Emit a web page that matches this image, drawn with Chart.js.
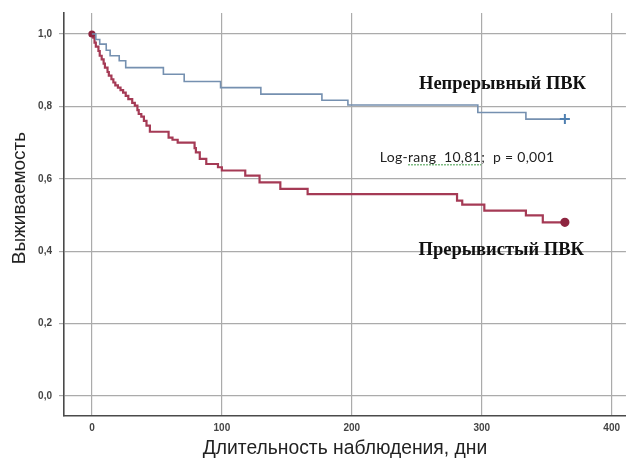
<!DOCTYPE html>
<html lang="ru">
<head>
    <meta charset="UTF-8">
    <title>Выживаемость</title>
    <script src="https://cdn.jsdelivr.net/npm/chart.js"></script>
    <style>
        body { margin: 0; background: #fff; }
        canvas { display: block; }
    </style>
</head>
<body>
    <canvas id="grafico" width="626" height="466"></canvas>

    <script>
        // Непрерывный ПВК (Kaplan-Meier)
        const diasNepr = [0, 3, 6, 11, 14, 21, 26, 55, 71, 99, 130, 177, 197, 297, 334, 364];
        const survNepr = [1.0, 0.985, 0.972, 0.955, 0.94, 0.926, 0.907, 0.889, 0.869, 0.852, 0.834, 0.817, 0.804, 0.783, 0.765, 0.765];

        // Прерывистый ПВК
        const diasPrer = [0, 1, 2, 3, 5, 6, 7.5, 9, 10, 12, 13, 15, 16.5, 18, 20, 22, 24, 26, 28, 31, 33, 35, 36, 38, 40, 42, 44.6,
                          59, 62, 66, 79, 80, 83, 88, 97, 100, 118, 129, 145, 166, 281, 285, 302, 334, 347, 364];
        const survPrer = [1.0, 0.99, 0.976, 0.965, 0.953, 0.94, 0.93, 0.918, 0.907, 0.895, 0.885, 0.875, 0.866, 0.858, 0.852, 0.845, 0.838, 0.829, 0.82, 0.81, 0.802, 0.79, 0.779, 0.772, 0.76, 0.747, 0.73,
                          0.714, 0.708, 0.70, 0.685, 0.673, 0.655, 0.641, 0.632, 0.623, 0.609, 0.59, 0.572, 0.558, 0.54, 0.529, 0.512, 0.499, 0.48, 0.48];

        const ticksX = [0, 100, 200, 300, 400];
        const ticksY = [0, 0.2, 0.4, 0.6, 0.8, 1.0];

        function pontos(dias, surv) {
            return dias.map((d, i) => ({ x: d, y: surv[i] }));
        }

        function ultimoPonto(n, r) {
            return Array.from({ length: n }, (_, i) => i === n - 1 ? r : 0);
        }

        // textos dentro do gráfico
        const notas = {
            id: 'notas',
            afterDatasetsDraw(chart) {
                const ctx = chart.ctx;
                const sx = chart.scales.x, sy = chart.scales.y;
                ctx.save();
                ctx.fillStyle = '#111';
                ctx.textBaseline = 'middle';
                ctx.textAlign = 'center';
                ctx.font = 'bold 18.5px "Liberation Serif"';
                ctx.letterSpacing = '0px';
                ctx.fillText('Непрерывный ПВК', sx.getPixelForValue(316), sy.getPixelForValue(0.862));
                ctx.fillText('Прерывистый ПВК', sx.getPixelForValue(315), sy.getPixelForValue(0.402));

                ctx.font = '14px Lato';
                ctx.letterSpacing = '0.3px';
                ctx.textAlign = 'left';
                const lx = sx.getPixelForValue(221.5), ly = sy.getPixelForValue(0.658);
                ctx.fillStyle = '#222';
                ctx.fillText('Log-rang  10,81;  p = 0,001', lx, ly);
                const w0 = ctx.measureText('Log-').width;
                const w1 = ctx.measureText('Log-rang  10,81').width;
                ctx.strokeStyle = '#3f9b47';
                ctx.lineWidth = 1;
                ctx.setLineDash([2, 1]);
                ctx.beginPath();
                ctx.moveTo(lx + w0, ly + 7);
                ctx.lineTo(lx + w1, ly + 7);
                ctx.stroke();
                ctx.setLineDash([]);

                // título do eixo Y
                ctx.letterSpacing = '0px';
                ctx.fillStyle = '#222';
                ctx.font = '19px "Liberation Sans"';
                ctx.textAlign = 'center';
                ctx.translate(20, 198);
                ctx.rotate(-Math.PI / 2);
                ctx.fillText('Выживаемость', 0, 0);
                ctx.restore();
            }
        };

        const ctx = document.getElementById('grafico').getContext('2d');
        new Chart(ctx, {
            type: 'line',
            data: {
                datasets: [{
                    label: 'Непрерывный ПВК',
                    data: pontos(diasNepr, survNepr),
                    borderColor: '#7590b0',
                    borderWidth: 1.6,
                    stepped: 'before',
                    pointStyle: 'cross',
                    pointRadius: ultimoPonto(diasNepr.length, 5),
                    pointBorderColor: '#4f7fb0',
                    pointBorderWidth: 2,
                    fill: false
                }, {
                    label: 'Прерывистый ПВК',
                    data: pontos(diasPrer, survPrer),
                    borderColor: '#a53a55',
                    borderWidth: 2.2,
                    stepped: 'before',
                    pointStyle: 'circle',
                    pointRadius: diasPrer.map((_, i) => i === 0 ? 2.5 : (i === diasPrer.length - 1 ? 3.5 : 0)),
                    pointBackgroundColor: '#8e2540',
                    pointBorderColor: '#8e2540',
                    fill: false
                }]
            },
            options: {
                responsive: false,
                animation: false,
                devicePixelRatio: 1,
                layout: { autoPadding: false, padding: { top: 12, right: 0, left: 0, bottom: 0 } },
                plugins: {
                    legend: { display: false },
                    tooltip: { enabled: false }
                },
                scales: {
                    x: {
                        type: 'linear',
                        min: -21.5,
                        max: 411,
                        afterBuildTicks: s => { s.ticks = ticksX.map(v => ({ value: v })); },
                        afterFit: s => { s.height = 50; },
                        grid: { color: '#ababab', lineWidth: 1.2, drawTicks: false },
                        border: { color: '#4a4a4a', width: 1.6 },
                        ticks: {
                            padding: 6,
                            color: '#444',
                            font: { family: '"Liberation Sans"', size: 10, weight: 'bold' }
                        },
                        title: {
                            display: true,
                            text: 'Длительность наблюдения, дни',
                            color: '#222',
                            font: { family: '"Liberation Sans"', size: 19.3 },
                            padding: { top: 0, bottom: 6 }
                        }
                    },
                    y: {
                        min: -0.055,
                        max: 1.058,
                        afterBuildTicks: s => { s.ticks = ticksY.map(v => ({ value: v })); },
                        afterFit: s => { s.width = 64; },
                        grid: { color: '#ababab', lineWidth: 1.2, tickLength: 5 },
                        border: { color: '#4a4a4a', width: 1.6 },
                        ticks: {
                            padding: 7,
                            color: '#444',
                            font: { family: '"Liberation Sans"', size: 10, weight: 'bold' },
                            callback: v => v.toFixed(1).replace('.', ',')
                        }
                    }
                }
            },
            plugins: [notas]
        });
    </script>
</body>
</html>
